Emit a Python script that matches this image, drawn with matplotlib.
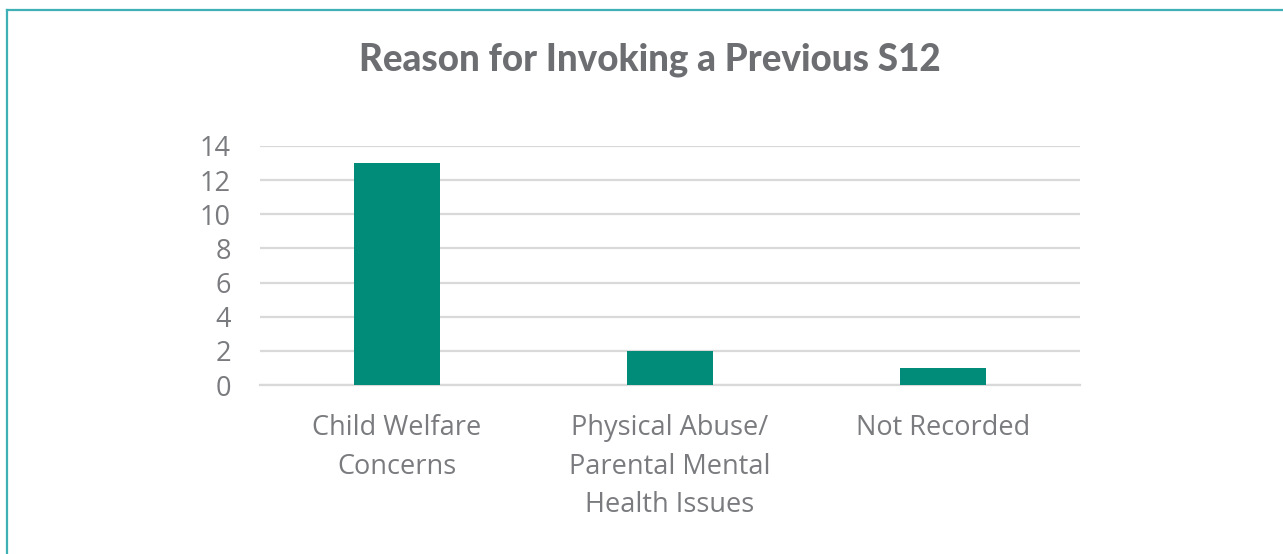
import matplotlib.pyplot as plt
from matplotlib.lines import Line2D

categories = ['Child Welfare\nConcerns', 'Physical Abuse/\nParental Mental\nHealth Issues', 'Not Recorded']
counts = [13, 2, 1]
yticks = [0, 2, 4, 6, 8, 10, 12, 14]

bar_color = '#008C78'
text_grey = '#7A7B7E'
grid_grey = '#D9D9D9'
frame_teal = '#3FB1B6'

plt.rcParams['font.family'] = ['Open Sans', 'DejaVu Sans']

W, H = 1283, 554
fig = plt.figure(figsize=(W / 100, H / 100), dpi=100)
ax = fig.add_axes([260 / W, 1 - 385 / H, 820 / W, 239 / H])

x = range(len(categories))
ax.bar(x, counts, width=0.315, color=bar_color, zorder=3)

ax.set_xlim(-0.5, len(categories) - 0.5)
ax.set_ylim(0, 14)
ax.set_yticks(yticks)
ax.set_yticklabels([str(t) for t in yticks])
ax.set_xticks(list(x))
ax.set_xticklabels(categories, linespacing=1.5)
ax.yaxis.grid(True, color=grid_grey, linewidth=1.6, zorder=0)
ax.tick_params(axis='both', length=0, labelsize=19.5, colors=text_grey)
ax.tick_params(axis='y', pad=21)
ax.tick_params(axis='x', pad=21)
for side in ['top', 'right', 'left']:
    ax.spines[side].set_visible(False)
ax.spines['bottom'].set_color(grid_grey)
ax.spines['bottom'].set_linewidth(1.6)

fig.text(650 / W, 1 - 60 / H, 'Reason for Invoking a Previous S12',
         ha='center', va='center', fontsize=26.5, fontweight='black',
         color='#6D6E71', family=['Lato', 'DejaVu Sans'])

# frame along the top and left edge
fig.add_artist(Line2D([7 / W, 1], [1 - 10 / H, 1 - 10 / H], color=frame_teal,
                      linewidth=1.6, transform=fig.transFigure))
fig.add_artist(Line2D([7 / W, 7 / W], [0, 1 - 10 / H], color=frame_teal,
                      linewidth=1.6, transform=fig.transFigure))

fig.savefig('out.png', dpi=100)
